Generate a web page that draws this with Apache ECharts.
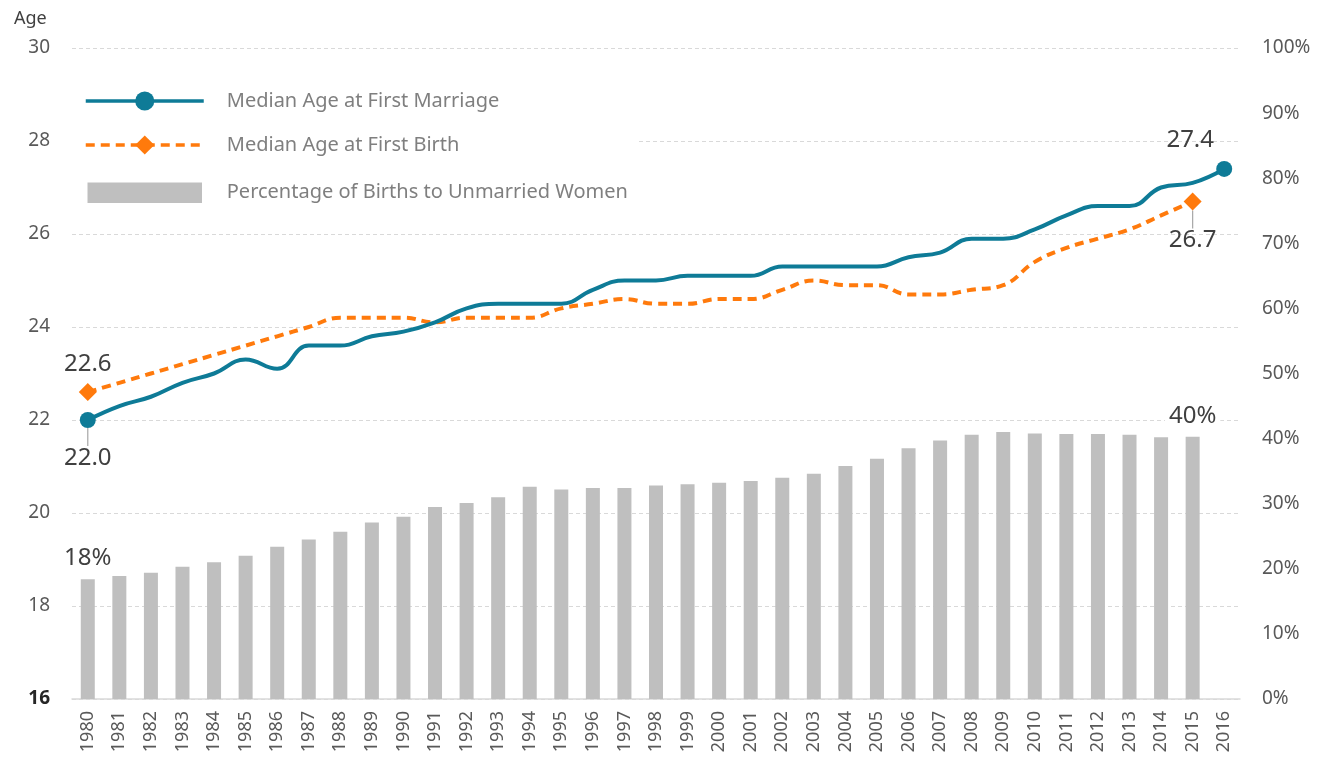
<!DOCTYPE html>
<html>
<head>
<meta charset="utf-8">
<script src="https://cdn.jsdelivr.net/npm/echarts@6/dist/echarts.min.js"></script>
<style>
html,body{margin:0;padding:0;background:#fff;}
#chart{width:1327px;height:762px;}
</style>
</head>
<body>
<div id="chart"></div>
<script>
const years = ['1980','1981','1982','1983','1984','1985','1986','1987','1988','1989','1990','1991','1992','1993','1994','1995','1996','1997','1998','1999','2000','2001','2002','2003','2004','2005','2006','2007','2008','2009','2010','2011','2012','2013','2014','2015','2016'];
const marriageAge = [22.0,22.3,22.5,22.8,23.0,23.3,23.1,23.6,23.6,23.8,23.9,24.1,24.4,24.5,24.5,24.5,24.8,25.0,25.0,25.1,25.1,25.1,25.3,25.3,25.3,25.3,25.5,25.6,25.9,25.9,26.1,26.4,26.6,26.6,27.0,27.1,27.4];
const birthAge = [22.6,22.8,23.0,23.2,23.4,23.6,23.8,24.0,24.2,24.2,24.2,24.1,24.2,24.2,24.2,24.4,24.5,24.6,24.5,24.5,24.6,24.6,24.8,25.0,24.9,24.9,24.7,24.7,24.8,24.9,25.4,25.7,25.9,26.1,26.4,26.7];
const unmarriedPct = [18.4,18.9,19.4,20.3,21.0,22.0,23.4,24.5,25.7,27.1,28.0,29.5,30.1,31.0,32.6,32.2,32.4,32.4,32.8,33.0,33.2,33.5,34.0,34.6,35.8,36.9,38.5,39.7,40.6,41.0,40.8,40.7,40.7,40.6,40.2,40.3];
const leftTicks = [16,18,20,22,24,26,28,30];
const rightTicks = [0,10,20,30,40,50,60,70,80,90,100];
const seriesNames = ['Median Age at First Marriage','Median Age at First Birth','Percentage of Births to Unmarried Women'];

const TEAL = '#0e7b97', ORANGE = '#ff7a0c', GREY = '#bfbfbf';
const FONT = 'Noto Sans';
const labelColor = '#404040';

function endpointData(arr, sym) {
  const last = arr.length - 1;
  return arr.map((v, i) => ({ value: v, symbol: (i === 0 || i === last) ? sym : 'none' }));
}

const chart = echarts.init(document.getElementById('chart'), null, {renderer: 'canvas'});

const mLast = marriageAge.length - 1;
const bLast = birthAge.length - 1;
const pLast = unmarriedPct.length - 1;
const guide = {show: true, lineStyle: {color: '#a6a6a6', width: 1.2}};

const marriageData = endpointData(marriageAge, 'circle');
marriageData[0].label = {show: true, position: 'bottom', distance: 4, formatter: p => p.value.toFixed(1)};
marriageData[0].labelLine = guide;
marriageData[mLast].label = {show: true, position: 'top', distance: 9, formatter: p => p.value.toFixed(1)};

const birthData = endpointData(birthAge, 'diamond');
birthData[0].label = {show: true, position: 'top', distance: 7, formatter: p => p.value.toFixed(1)};
birthData[bLast].label = {show: true, position: 'bottom', distance: 4, formatter: p => p.value.toFixed(1)};
birthData[bLast].labelLine = guide;

const barData = unmarriedPct.map((v, i) => {
  const d = {value: v};
  if (i === 0) d.label = {show: true, position: 'top', distance: 9, formatter: p => Math.round(p.value) + '%'};
  if (i === pLast) d.label = {show: true, position: 'top', distance: 8, backgroundColor: '#fff', padding: [0, 4], formatter: p => Math.round(p.value) + '%'};
  return d;
});

const dataLabelStyle = {color: labelColor, fontSize: 24, fontFamily: FONT};

chart.setOption({
  backgroundColor: '#fff',
  animation: false,
  textStyle: {fontFamily: FONT},
  title: {text: 'Age', left: 9, top: 5, textStyle: {fontSize: 18, fontWeight: 'normal', color: labelColor, fontFamily: FONT}},
  grid: {left: 72, right: 87, top: 48, bottom: 63, containLabel: false},
  legend: {
    orient: 'vertical', left: 72, top: 87,
    itemWidth: 118, itemHeight: 24, itemGap: 24,
    backgroundColor: '#fff',
    padding: [4, 10, 6, 12],
    data: [
      {name: seriesNames[0], lineStyle: {width: 3.5}},
      {name: seriesNames[1], lineStyle: {width: 3.5}},
      {name: seriesNames[2], icon: 'rect', itemStyle: {color: GREY, borderColor: '#fff', borderWidth: 3.5}}
    ],
    textStyle: {fontSize: 20, color: '#7f7f7f', fontFamily: FONT, padding: [0, 0, 0, 18]}
  },
  xAxis: {
    type: 'category', data: years,
    axisTick: {show: false},
    axisLine: {lineStyle: {color: '#d9d9d9', width: 1.5}},
    axisLabel: {rotate: 90, fontSize: 18, color: '#595959', margin: 12, fontFamily: FONT}
  },
  yAxis: [{
    type: 'value', min: leftTicks[0], max: leftTicks[leftTicks.length - 1], interval: 2,
    axisLine: {show: false}, axisTick: {show: false},
    splitLine: {lineStyle: {color: '#d9d9d9', type: [4, 3]}},
    axisLabel: {
      fontSize: 19, color: '#595959', margin: 22, fontFamily: FONT,
      formatter: v => v === leftTicks[0] ? '{b|' + v + '}' : String(v),
      rich: {b: {fontSize: 19, fontWeight: 'bold', color: '#262626', fontFamily: FONT}}
    }
  }, {
    type: 'value', min: rightTicks[0], max: rightTicks[rightTicks.length - 1], interval: 10,
    axisLine: {show: false}, axisTick: {show: false}, splitLine: {show: false},
    axisLabel: {fontSize: 19, color: '#595959', margin: 22, fontFamily: FONT, formatter: v => v + '%'}
  }],
  series: [{
    name: seriesNames[0], type: 'line', yAxisIndex: 0, z: 4,
    data: marriageData, smooth: 0.45, symbol: 'circle', symbolSize: 16,
    lineStyle: {color: TEAL, width: 4}, itemStyle: {color: TEAL},
    label: dataLabelStyle,
    labelLayout: p => (p.dataIndex === 0 ? {dy: 14} : (p.dataIndex === mLast ? {dx: -34} : null))
  }, {
    name: seriesNames[1], type: 'line', yAxisIndex: 0, z: 3,
    data: birthData, smooth: 0.45, symbol: 'diamond', symbolSize: 18,
    lineStyle: {color: ORANGE, width: 4, type: [9, 6]}, itemStyle: {color: ORANGE},
    label: dataLabelStyle,
    labelLayout: p => (p.dataIndex === bLast ? {dy: 14} : null)
  }, {
    name: seriesNames[2], type: 'bar', yAxisIndex: 1, z: 2,
    data: barData, barWidth: 14,
    itemStyle: {color: GREY},
    label: dataLabelStyle
  }]
});
</script>
</body>
</html>
